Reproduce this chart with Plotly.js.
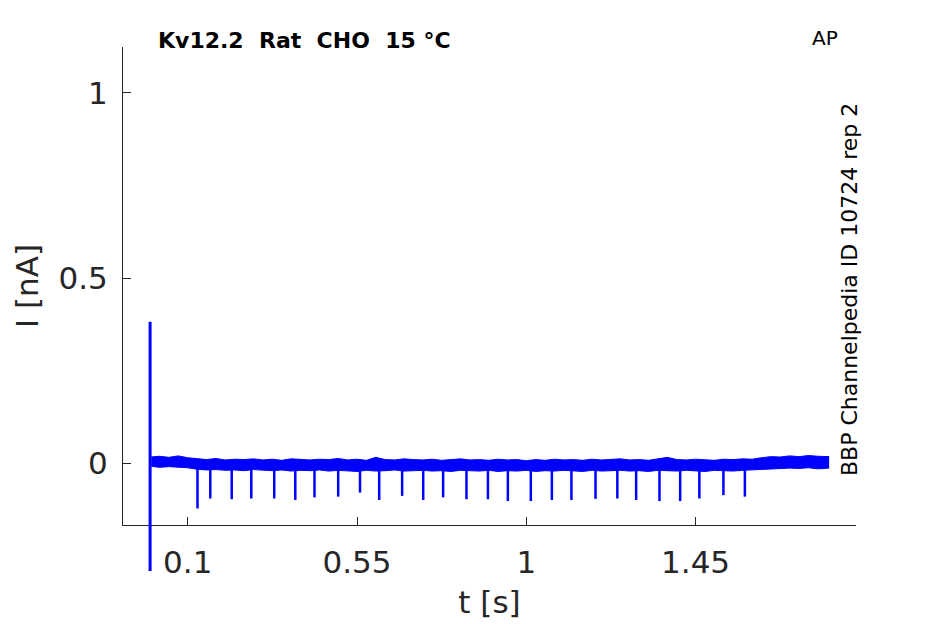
<!DOCTYPE html>
<html>
<head>
<meta charset="utf-8">
<script src="https://cdn.plot.ly/plotly-3.0.1.min.js"></script>
<style>
  html, body { margin: 0; padding: 0; background: #fff; }
  #plot { width: 945px; height: 624px; }
</style>
</head>
<body>
<div id="plot"></div>
<script>
// noise band of the recorded current, read as upper / lower envelope (nA)
var envT = [0.003, 0.025, 0.05, 0.075, 0.1, 0.125, 0.15, 0.175, 0.2, 0.225, 0.25, 0.275, 0.3,
  0.325, 0.35, 0.375, 0.4, 0.425, 0.45, 0.475, 0.5, 0.525, 0.55, 0.575, 0.6, 0.625, 0.65, 0.675, 0.7,
  0.725, 0.75, 0.775, 0.8, 0.825, 0.85, 0.875, 0.9, 0.925, 0.95, 0.975, 1.0, 1.025, 1.05, 1.075, 1.1,
  1.125, 1.15, 1.175, 1.2, 1.225, 1.25, 1.275, 1.3, 1.325, 1.35, 1.375, 1.4, 1.425, 1.45, 1.475, 1.5,
  1.525, 1.55, 1.575, 1.6, 1.625, 1.65, 1.675, 1.7, 1.725, 1.75, 1.775, 1.805];
var envHi = [0.017, 0.019, 0.016, 0.020, 0.015,
  0.012, 0.010, 0.013, 0.009, 0.011, 0.010, 0.012, 0.009,
  0.011, 0.008, 0.012, 0.010, 0.009, 0.011, 0.010, 0.013,
  0.009, 0.011, 0.008, 0.016, 0.010, 0.009, 0.012, 0.010,
  0.009, 0.011, 0.008, 0.010, 0.012, 0.009, 0.010, 0.008,
  0.011, 0.009, 0.010, 0.007, 0.010, 0.008, 0.011, 0.009,
  0.010, 0.008, 0.011, 0.009, 0.010, 0.012, 0.009, 0.010,
  0.008, 0.011, 0.016, 0.010, 0.009, 0.011, 0.010, 0.008,
  0.011, 0.010, 0.012, 0.011, 0.015, 0.018, 0.017, 0.020,
  0.018, 0.021, 0.019, 0.018];
var envLo = [-0.008, -0.011, -0.009, -0.010, -0.012,
  -0.016, -0.018, -0.017, -0.019, -0.018, -0.020, -0.017, -0.019,
  -0.020, -0.018, -0.021, -0.019, -0.020, -0.018, -0.021, -0.019,
  -0.020, -0.022, -0.019, -0.021, -0.020, -0.018, -0.021, -0.020,
  -0.019, -0.021, -0.020, -0.022, -0.019, -0.020, -0.021, -0.019,
  -0.022, -0.020, -0.021, -0.019, -0.022, -0.020, -0.021, -0.019,
  -0.020, -0.022, -0.019, -0.021, -0.020, -0.019, -0.021, -0.020,
  -0.022, -0.019, -0.020, -0.021, -0.019, -0.020, -0.022, -0.019,
  -0.020, -0.021, -0.019, -0.018, -0.016, -0.014, -0.015, -0.013,
  -0.014, -0.012, -0.015, -0.013];

// downward transients during the AP train
var spikeT = [0.126, 0.160, 0.217, 0.269, 0.330, 0.386, 0.437, 0.500, 0.558, 0.609, 0.670,
  0.726, 0.779, 0.841, 0.898, 0.951, 1.012, 1.068, 1.120, 1.184, 1.242, 1.292, 1.354,
  1.409, 1.460, 1.524, 1.581];
var spikeMin = [-0.122, -0.095, -0.097, -0.095, -0.095, -0.099, -0.092, -0.090, -0.079, -0.099, -0.088,
  -0.099, -0.092, -0.097, -0.097, -0.102, -0.102, -0.099, -0.099, -0.096, -0.095, -0.099, -0.102,
  -0.102, -0.095, -0.086, -0.090];

// capacitive transient at t = 0
var bigT = 0;
var bigMax = 0.382;
var bigMin = -0.291;

var xTicks = [0.1, 0.55, 1, 1.45];
var xTickText = ['0.1', '0.55', '1', '1.45'];
var yTicks = [0, 0.5, 1];
var yTickText = ['0', '0.5', '1'];

var blue = '#0000ff';
var ink = '#262626';
var fontFam = 'DejaVu Sans, sans-serif';

var sx = [], sy = [];
for (var i = 0; i < spikeT.length; i++) {
  sx.push(spikeT[i], spikeT[i], null);
  sy.push(0, spikeMin[i], null);
}

var data = [
  { x: envT, y: envLo, type: 'scatter', mode: 'lines', line: { color: blue, width: 1 }, hoverinfo: 'skip' },
  { x: envT, y: envHi, type: 'scatter', mode: 'lines', fill: 'tonexty', fillcolor: blue,
    line: { color: blue, width: 1 }, hoverinfo: 'skip' },
  { x: sx, y: sy, type: 'scatter', mode: 'lines', line: { color: blue, width: 2.5 }, hoverinfo: 'skip' },
  // drawn on an overlapping subplot so it can run past the bottom axis like the original
  { x: [bigT, bigT], y: [bigMax, bigMin], xaxis: 'x2', yaxis: 'y2', type: 'scatter', mode: 'lines',
    line: { color: blue, width: 3 }, hoverinfo: 'skip' }
];

var xr = [-0.072, 1.8764];

var layout = {
  width: 945,
  height: 624,
  margin: { l: 123, r: 89, t: 47, b: 49, pad: 0 },
  paper_bgcolor: '#fff',
  plot_bgcolor: 'rgba(0,0,0,0)',
  showlegend: false,
  font: { family: fontFam, color: ink },
  title: {
    text: '<b>Kv12.2\u00a0\u00a0Rat\u00a0\u00a0CHO\u00a0\u00a015\u00a0°C</b>',
    xref: 'container', x: 158 / 945, xanchor: 'left',
    yref: 'container', y: 1 - 40 / 624, yanchor: 'middle',
    font: { family: fontFam, size: 22, color: '#000' }
  },
  xaxis: {
    range: xr, domain: [0, 1], anchor: 'y',
    tickmode: 'array', tickvals: xTicks, ticktext: xTickText,
    ticks: 'inside', ticklen: 8, tickwidth: 1, tickcolor: ink,
    showline: true, linecolor: ink, linewidth: 1,
    showgrid: false, zeroline: false, automargin: false,
    tickfont: { family: fontFam, size: 31, color: ink },
    ticklabelstandoff: 10,
    title: { text: 't [s]', font: { family: fontFam, size: 31, color: ink }, standoff: 12 }
  },
  yaxis: {
    range: [-0.1666, 1.124], domain: [50 / 528, 1], anchor: 'x',
    tickmode: 'array', tickvals: yTicks, ticktext: yTickText,
    ticks: 'inside', ticklen: 8, tickwidth: 1, tickcolor: ink,
    showline: true, linecolor: ink, linewidth: 1,
    showgrid: false, zeroline: false, automargin: false,
    tickfont: { family: fontFam, size: 31, color: ink },
    ticklabelstandoff: 8,
    title: { text: 'I [nA]', font: { family: fontFam, size: 31, color: ink }, standoff: 10 }
  },
  xaxis2: { range: xr, domain: [0, 1], anchor: 'y2', visible: false, fixedrange: true },
  yaxis2: { range: [-0.3016, 1.124], domain: [0, 1], anchor: 'x2', visible: false, fixedrange: true },
  annotations: [
    { text: 'AP', xref: 'paper', yref: 'paper', x: (825 - 123) / 733, y: (575 - 38) / 528,
      xanchor: 'center', yanchor: 'middle', showarrow: false,
      font: { family: fontFam, size: 20, color: '#000' } },
    { text: 'BBP Channelpedia ID 10724 rep 2', xref: 'paper', yref: 'paper',
      x: (849 - 123) / 733, y: (575 - 290) / 528, textangle: -90,
      xanchor: 'center', yanchor: 'middle', showarrow: false,
      font: { family: fontFam, size: 22, color: '#000' } }
  ]
};

Plotly.newPlot('plot', data, layout, { displayModeBar: false, staticPlot: true });
</script>
</body>
</html>
